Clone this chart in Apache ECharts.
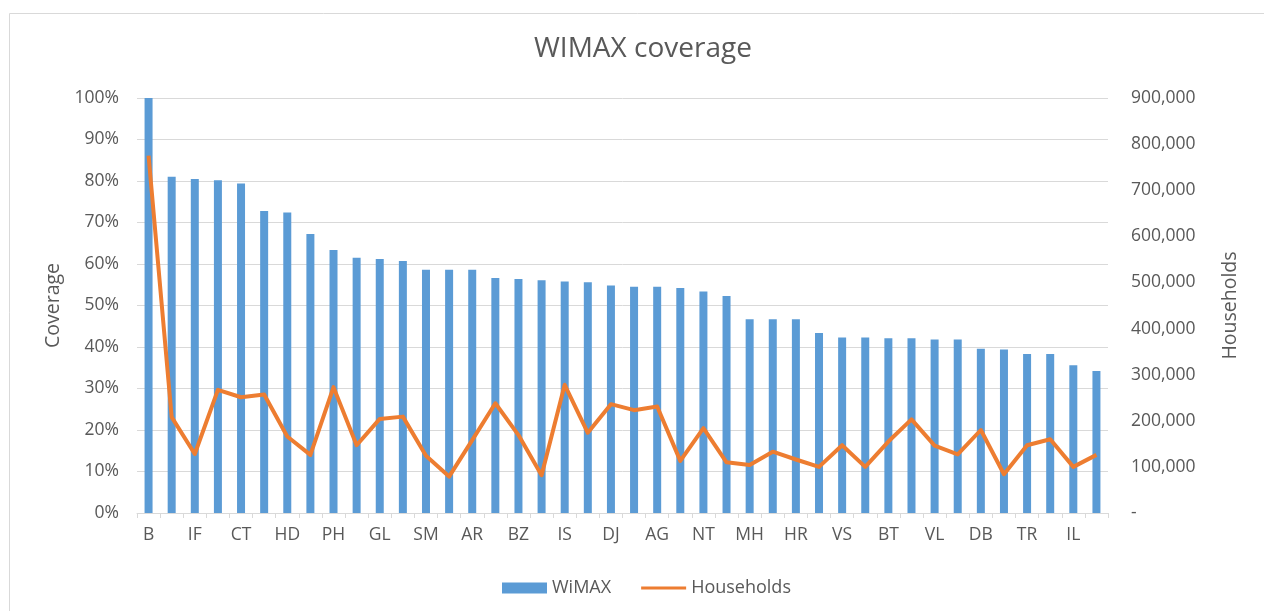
<!DOCTYPE html>
<html lang="en">
<head>
    <meta charset="UTF-8">
    <title>WIMAX coverage</title>
    <script src="https://cdn.jsdelivr.net/npm/echarts@6.0.0/dist/echarts.min.js"></script>
    <style type="text/css">
        html, body { margin: 0; padding: 0; background: #fff; }
        #myChart { width: 1264px; height: 611px; }
    </style>
</head>
<body>
<div id="myChart"></div>

<script>
    // counties, sorted by coverage (only every other one is labelled)
    var counties = ['B', 'TM', 'IF', 'CJ', 'CT', 'BV', 'HD', 'SB', 'PH', 'BH',
        'GL', 'MS', 'SM', 'CS', 'AR', 'BC', 'BZ', 'AB', 'IS', 'MM',
        'DJ', 'SV', 'AG', 'BR', 'NT', 'CV', 'MH', 'BN', 'HR', 'OT',
        'VS', 'SJ', 'BT', 'GJ', 'VL', 'VN', 'DB', 'CL', 'TR', 'GR',
        'IL', 'TL'];
    var coverage = [100, 81.0, 80.5, 80.2, 79.4, 72.8, 72.4, 67.2, 63.4, 61.5,
        61.2, 60.7, 58.6, 58.6, 58.6, 56.6, 56.4, 56.1, 55.8, 55.6,
        54.8, 54.5, 54.5, 54.2, 53.4, 52.3, 46.7, 46.7, 46.7, 43.4,
        42.3, 42.3, 42.1, 42.1, 41.8, 41.8, 39.6, 39.4, 38.3, 38.3,
        35.6, 34.2];
    var households = [775000, 208000, 128000, 267000, 251000, 257000, 166000, 126000, 273000, 147000,
        204000, 209000, 124000, 79000, 158000, 238000, 169000, 82000, 278000, 174000,
        236000, 223000, 231000, 113000, 184000, 110000, 104000, 133000, 116000, 100000,
        147000, 100000, 155000, 203000, 146000, 127000, 180000, 84000, 147000, 160000,
        100000, 126000];

    var fontName = '"Open Sans", sans-serif';
    var textGrey = '#595959';
    var lineGrey = '#d9d9d9';

    var myChart = echarts.init(document.getElementById('myChart'));

    var option = {
        animation: false,
        textStyle: { fontFamily: fontName },
        graphic: [{
            type: 'rect',
            left: 7,
            top: 11,
            shape: { width: 1300, height: 700 },
            style: { fill: 'none', stroke: lineGrey, lineWidth: 1 },
            silent: true
        }],
        title: {
            text: 'WIMAX coverage',
            left: 529,
            top: 30,
            textStyle: { fontFamily: fontName, fontSize: 28, fontWeight: 'normal', color: textGrey }
        },
        legend: {
            bottom: 9,
            left: 497,
            itemWidth: 45,
            itemHeight: 11,
            itemGap: 30,
            textStyle: { fontFamily: fontName, fontSize: 18, color: textGrey },
            data: [
                { name: 'WiMAX', icon: 'rect' },
                { name: 'Households', icon: 'path://M0,4 L48,4 L48,7 L0,7 Z' }
            ]
        },
        grid: {
            left: 137,
            right: 156,
            top: 98,
            bottom: 98
        },
        xAxis: {
            type: 'category',
            data: counties,
            boundaryGap: true,
            axisLine: { lineStyle: { color: lineGrey } },
            axisTick: { show: true, interval: 0, length: 5, lineStyle: { color: lineGrey } },
            axisLabel: { interval: 1, fontSize: 17.5, color: textGrey, margin: 13, fontFamily: fontName }
        },
        yAxis: [{
            type: 'value',
            min: 0,
            max: 100,
            interval: 10,
            name: 'Coverage',
            nameLocation: 'middle',
            nameGap: 74,
            nameTextStyle: { fontSize: 19.5, color: textGrey, fontFamily: fontName },
            axisLine: { show: false },
            axisTick: { show: false },
            axisLabel: { formatter: '{value}%', fontSize: 17.5, color: textGrey, margin: 18, fontFamily: fontName },
            splitLine: { lineStyle: { color: lineGrey } }
        }, {
            type: 'value',
            min: 0,
            max: 900000,
            interval: 100000,
            name: 'Households',
            nameLocation: 'middle',
            nameGap: 112,
            nameRotate: 90,
            nameTextStyle: { fontSize: 19.5, color: textGrey, fontFamily: fontName },
            axisLine: { show: false },
            axisTick: { show: false },
            axisLabel: {
                fontSize: 17.5,
                color: textGrey,
                margin: 23,
                fontFamily: fontName,
                formatter: function (v) {
                    return v === 0 ? '-' : v.toLocaleString('en-US');
                }
            },
            splitLine: { show: false }
        }],
        series: [{
            name: 'WiMAX',
            type: 'bar',
            yAxisIndex: 0,
            barWidth: 8,
            itemStyle: { color: '#5b9bd5' },
            data: coverage
        }, {
            name: 'Households',
            type: 'line',
            yAxisIndex: 1,
            symbol: 'none',
            lineStyle: { color: '#ed7d31', width: 4, join: 'round' },
            itemStyle: { color: '#ed7d31' },
            data: households
        }]
    };

    myChart.setOption(option);
</script>
</body>
</html>
